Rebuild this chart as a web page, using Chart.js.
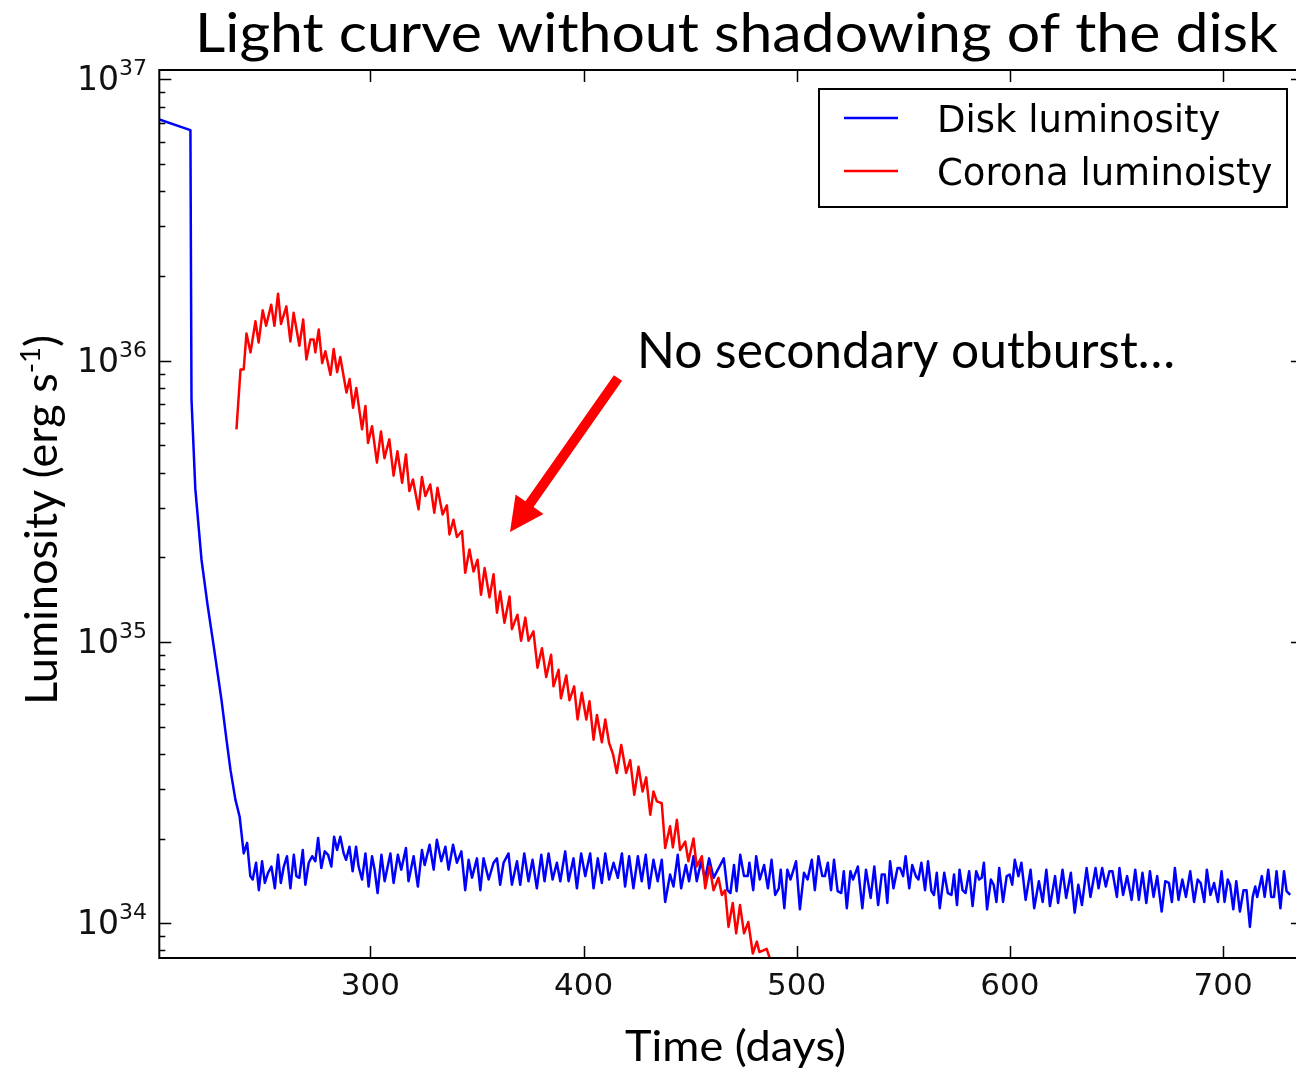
<!DOCTYPE html>
<html>
<head>
<meta charset="utf-8">
<script src="https://cdn.jsdelivr.net/npm/chart.js@4.4.1/dist/chart.umd.min.js"></script>
<style>
  html, body { margin: 0; padding: 0; background: #fff; overflow: hidden; }
  #wrap { width: 1296px; height: 1073px; overflow: hidden; position: relative; }
  canvas { display: block; }
</style>
</head>
<body>
<div id="wrap"><canvas id="lc" width="1320" height="1073"></canvas></div>
<script>
// luminosities are in units of 1e34 erg/s, time in days
const diskDays = [
  201, 215.6, 216.1, 217.9, 220.8, 223.6, 226.4, 230.2, 232.5, 234.4,
  236.7, 238.7, 240.6, 242.2, 243.7, 244.8, 246.4, 247.7, 249.2, 250.5,
  252.0, 253.6, 255.2, 256.7, 258.0, 259.4, 260.9, 262.5, 264.1, 265.3,
  266.7, 268.3, 269.5, 271.1, 272.7, 274.2, 275.5, 277.0, 278.6, 280.2,
  281.7, 283.0, 284.4, 285.9, 287.5, 288.6, 290.2, 291.7, 293.3, 294.5,
  296.1, 297.7, 299.2, 300.8, 302.0, 303.4, 305.2, 306.7, 309.4, 310.9,
  312.9, 314.5, 316.7, 317.9, 320.3, 322.3, 324.2, 325.5, 327.8, 329.7,
  331.2, 333.3, 335.2, 336.7, 338.8, 340.6, 342.7, 344.5, 346.1, 347.7,
  350.0, 351.6, 353.1, 355.5, 357.8, 359.4, 360.9, 362.5, 364.8, 366.4,
  368.8, 370.3, 372.2, 374.2, 376.1, 378.1, 380.2, 381.7, 383.6, 385.5,
  387.5, 389.1, 391.4, 393.0, 395.3, 396.9, 398.9, 400.8, 403.1, 404.7,
  406.7, 408.6, 410.2, 412.0, 414.1, 416.1, 418.0, 419.5, 421.4, 423.4,
  425.5, 427.3, 429.2, 430.8, 432.8, 434.8, 436.7, 438.3, 440.6, 442.2,
  444.2, 445.8, 448.0, 449.5, 451.6, 453.1, 455.2, 457.0, 458.9, 461.0,
  465.8, 467.5, 468.9, 470.6, 471.8, 473.5, 475.3, 477.0, 477.8, 479.6,
  481.0, 482.7, 484.7, 486.5, 488.2, 489.9, 491.6, 492.5, 494.2, 495.6,
  497.1, 499.7, 501.5, 503.4, 505.1, 507.1, 508.5, 510.2, 512.0, 513.2,
  514.6, 516.1, 517.5, 519.2, 520.9, 522.1, 523.5, 525.2, 526.4, 528.7,
  530.8, 532.5, 534.7, 536.4, 538.2, 539.9, 541.3, 542.5, 543.8, 545.4,
  547.3, 548.5, 549.9, 551.1, 552.8, 554.2, 555.9, 557.1, 558.5, 560.2,
  561.6, 563.2, 564.4, 565.7, 567.1, 569.2, 570.9, 572.6, 573.8, 575.2,
  576.4, 577.8, 579.2, 580.9, 582.5, 584.2, 585.6, 586.8, 587.8, 589.3,
  591.1, 592.4, 593.7, 595.0, 596.8, 598.5, 599.9, 601.1, 602.3, 604.0,
  605.4, 607.4, 609.7, 611.4, 613.6, 615.4, 617.1, 618.8, 621.2, 622.6,
  624.7, 626.4, 628.6, 630.4, 632.1, 633.8, 636.0, 637.8, 640.2, 641.6,
  643.3, 645.0, 646.7, 648.1, 650.2, 651.4, 653.1, 655.0, 657.1, 658.8,
  660.5, 662.2, 664.0, 665.7, 667.4, 669.1, 671.2, 672.9, 674.6, 676.0,
  677.4, 679.1, 680.9, 682.6, 684.6, 686.4, 688.1, 689.5, 691.2, 692.4,
  694.1, 695.8, 697.6, 699.3, 700.7, 702.2, 703.3, 704.8, 706.2, 707.9,
  709.6, 711.0, 712.6, 713.9, 715.1, 716.0, 718.2, 719.5, 721.2, 722.6,
  723.9, 725.1, 726.9, 728.6, 729.8, 731.5
];
const diskLum = [
  720, 660, 73, 35, 19.6, 13.6, 9.8, 6.2, 4.5, 3.5,
  2.75, 2.39, 1.77, 1.93, 1.47, 1.43, 1.64, 1.31, 1.66, 1.39,
  1.51, 1.59, 1.33, 1.75, 1.39, 1.59, 1.73, 1.33, 1.75, 1.47,
  1.45, 1.82, 1.37, 1.64, 1.73, 1.66, 2.01, 1.57, 1.80, 1.75,
  1.59, 2.03, 1.82, 2.03, 1.77, 1.68, 1.87, 1.53, 1.87, 1.59,
  1.43, 1.77, 1.35, 1.73, 1.55, 1.28, 1.75, 1.41, 1.77, 1.39,
  1.75, 1.55, 1.85, 1.41, 1.73, 1.35, 1.82, 1.61, 1.90, 1.55,
  1.98, 1.66, 1.87, 1.55, 1.90, 1.64, 1.80, 1.31, 1.68, 1.45,
  1.70, 1.31, 1.70, 1.43, 1.64, 1.70, 1.37, 1.64, 1.77, 1.37,
  1.66, 1.37, 1.77, 1.41, 1.68, 1.33, 1.75, 1.41, 1.77, 1.43,
  1.64, 1.41, 1.80, 1.41, 1.70, 1.33, 1.77, 1.47, 1.77, 1.33,
  1.70, 1.39, 1.77, 1.43, 1.64, 1.45, 1.77, 1.35, 1.73, 1.33,
  1.73, 1.41, 1.75, 1.33, 1.68, 1.41, 1.68, 1.19, 1.49, 1.35,
  1.75, 1.33, 1.61, 1.41, 1.73, 1.41, 1.66, 1.43, 1.70, 1.45,
  1.70, 1.31, 1.28, 1.61, 1.30, 1.75, 1.47, 1.47, 1.64, 1.31,
  1.73, 1.43, 1.61, 1.33, 1.68, 1.26, 1.33, 1.55, 1.13, 1.55,
  1.43, 1.66, 1.12, 1.51, 1.43, 1.68, 1.31, 1.73, 1.47, 1.47,
  1.64, 1.31, 1.68, 1.30, 1.28, 1.53, 1.13, 1.53, 1.43, 1.59,
  1.13, 1.55, 1.23, 1.59, 1.16, 1.49, 1.49, 1.18, 1.66, 1.33,
  1.57, 1.57, 1.47, 1.73, 1.33, 1.61, 1.47, 1.43, 1.64, 1.31,
  1.66, 1.30, 1.26, 1.51, 1.13, 1.51, 1.28, 1.26, 1.49, 1.16,
  1.55, 1.31, 1.28, 1.53, 1.15, 1.53, 1.43, 1.45, 1.64, 1.12,
  1.43, 1.37, 1.19, 1.57, 1.19, 1.47, 1.49, 1.37, 1.68, 1.47,
  1.64, 1.21, 1.55, 1.13, 1.41, 1.19, 1.55, 1.15, 1.47, 1.18,
  1.55, 1.23, 1.51, 1.09, 1.37, 1.16, 1.57, 1.24, 1.57, 1.33,
  1.57, 1.35, 1.53, 1.53, 1.24, 1.57, 1.26, 1.47, 1.21, 1.55,
  1.21, 1.51, 1.18, 1.53, 1.24, 1.47, 1.10, 1.41, 1.39, 1.19,
  1.57, 1.21, 1.43, 1.24, 1.53, 1.19, 1.43, 1.39, 1.19, 1.55,
  1.26, 1.39, 1.19, 1.53, 1.19, 1.43, 1.37, 1.12, 1.41, 1.10,
  1.31, 1.31, 0.97, 1.24, 1.35, 1.24, 1.47, 1.24, 1.55, 1.24,
  1.24, 1.53, 1.13, 1.53, 1.30, 1.26
];
const coronaDays = [
  237.2, 239.1, 240.6, 241.9, 243.8, 246.1, 247.6, 249.5, 251.1, 253.5,
  255.0, 256.7, 258.1, 260.6, 262.5, 264.0, 266.7, 268.5, 270.0, 271.9,
  273.4, 274.2, 275.8, 277.4, 278.9, 281.3, 282.8, 284.4, 285.9, 288.8,
  290.3, 291.9, 293.4, 296.1, 297.7, 298.9, 300.8, 303.1, 305.0, 306.6,
  308.9, 310.9, 312.7, 314.9, 316.7, 318.3, 320.0, 322.6, 324.2, 325.8,
  328.1, 330.0, 331.5, 333.9, 335.9, 337.1, 339.0, 340.6, 343.0, 344.5,
  346.5, 348.4, 350.3, 351.9, 353.6, 355.9, 357.8, 359.4, 360.9, 362.9,
  365.3, 366.4, 369.0, 370.7, 372.7, 374.2, 376.5, 378.4, 380.5, 382.5,
  384.8, 385.9, 388.3, 389.4, 391.9, 393.4, 395.6, 397.2, 399.2, 401.3,
  402.8, 404.7, 406.3, 408.6, 410.2, 412.0, 413.8, 415.6, 417.7, 420.0,
  421.9, 423.8, 425.8, 427.7, 429.4, 431.3, 432.8, 434.4, 436.7, 438.3,
  440.6, 441.9, 443.8, 445.3, 447.7, 449.2, 451.6, 453.1, 455.5, 457.1,
  459.1, 461.0, 463.3, 464.9, 466.4, 468.0, 470.0, 471.6, 473.4, 475.3,
  477.3, 479.4, 481.3, 482.5, 484.4, 485.9, 487.9, 489.8
];
const coronaLum = [
  57, 93, 93, 125, 107, 138, 116, 151, 133, 158,
  133, 173, 135, 156, 117, 148, 113, 140, 101, 119,
  119, 107, 129, 98, 108, 89, 110, 91, 103, 77,
  86, 68, 80, 57, 69, 51, 58.5, 43.4, 56, 45,
  52.5, 39, 47.6, 36.8, 46.4, 34.4, 37.8, 29.6, 38.6, 33.0,
  36.3, 28.8, 35.3, 28.4, 30.6, 24.1, 27.2, 23.6, 24.8, 17.6,
  21.3, 17.8, 19.6, 14.7, 18.3, 14.4, 17.4, 12.7, 15.1, 11.7,
  14.5, 11.1, 12.5, 10.1, 12.2, 10.1, 10.9, 8.1, 9.5, 7.5,
  9.0, 6.95, 7.96, 6.3, 7.6, 6.2, 6.95, 5.3, 6.6, 5.3,
  6.15, 4.49, 5.5, 4.4, 5.3, 4.37, 4.0, 3.42, 4.3, 3.42,
  3.8, 2.86, 3.6, 2.94, 3.3, 2.43, 2.94, 2.71, 2.67, 1.85,
  2.21, 1.86, 2.33, 1.82, 1.95, 1.66, 2.0, 1.59, 1.73, 1.33,
  1.59, 1.31, 1.45, 1.26, 1.31, 0.97, 1.18, 0.92, 1.16, 0.92,
  1.01, 0.78, 0.86, 0.79, 0.80, 0.81, 0.73, 0.68
];

const xTicks = [300, 400, 500, 600, 700];
const yPowers = [34, 35, 36, 37];   // labelled decades (10^n erg/s)
const seriesNames = ['Disk luminosity', 'Corona luminoisty'];
const seriesColors = ['#0000ff', '#ff0000'];

function toPoints(days, lum) {
  return days.map((d, i) => ({ x: d, y: lum[i] }));
}

// draw text stretched/squeezed to a given width (Calibri-like look)
function fitText(ctx, text, left, baseline, font, width) {
  ctx.font = font;
  const w = ctx.measureText(text).width;
  ctx.save();
  ctx.translate(left, baseline);
  ctx.scale(width / w, 1);
  ctx.textAlign = 'left';
  ctx.textBaseline = 'alphabetic';
  ctx.fillText(text, 0, 0);
  ctx.restore();
}

const decorations = {
  id: 'decorations',
  afterDraw(chart) {
    const { ctx, chartArea: a, scales: { x, y } } = chart;
    ctx.save();

    // frame
    ctx.strokeStyle = '#000';
    ctx.lineWidth = 2;
    ctx.strokeRect(a.left, a.top, a.right - a.left, a.bottom - a.top);

    // tick marks, pointing inwards on all four sides
    ctx.lineWidth = 1.5;
    ctx.beginPath();
    x.ticks.forEach(t => {
      const px = Math.round(x.getPixelForValue(t.value)) + 0.5;
      ctx.moveTo(px, a.bottom); ctx.lineTo(px, a.bottom - 12);
      ctx.moveTo(px, a.top); ctx.lineTo(px, a.top + 12);
    });
    y.ticks.forEach(t => {
      const py = Math.round(y.getPixelForValue(t.value)) + 0.5;
      const lg = Math.log10(t.value);
      const len = Math.abs(lg - Math.round(lg)) < 1e-6 ? 12 : 6;
      ctx.moveTo(a.left, py); ctx.lineTo(a.left + len, py);
      ctx.moveTo(a.right, py); ctx.lineTo(a.right - len, py);
    });
    ctx.stroke();

    // x tick labels
    ctx.fillStyle = '#111';
    ctx.font = '31px "DejaVu Sans"';
    ctx.textAlign = 'center';
    ctx.textBaseline = 'alphabetic';
    xTicks.forEach(v => {
      ctx.fillText(String(v), x.getPixelForValue(v), 995);
    });

    // y tick labels 10^n
    yPowers.forEach(p => {
      const py = y.getPixelForValue(Math.pow(10, p - 34));
      const sup = String(p);
      ctx.font = '22px "DejaVu Sans"';
      const ws = ctx.measureText(sup).width;
      ctx.font = '33px "DejaVu Sans"';
      const wb = ctx.measureText('10').width;
      const right = 147;
      ctx.textAlign = 'left';
      ctx.fillText('10', right - ws - wb, py + 11);
      ctx.font = '22px "DejaVu Sans"';
      ctx.fillText(sup, right - ws, py - 4);
    });

    // legend
    ctx.strokeStyle = '#000';
    ctx.lineWidth = 2;
    ctx.strokeRect(819, 89, 468, 118);
    const rows = [118, 171];
    ctx.font = '37px "DejaVu Sans"';
    ctx.textAlign = 'left';
    seriesNames.forEach((name, i) => {
      ctx.strokeStyle = seriesColors[i];
      ctx.lineWidth = 2.5;
      ctx.beginPath();
      ctx.moveTo(844, rows[i]); ctx.lineTo(898, rows[i]);
      ctx.stroke();
      ctx.fillStyle = '#000';
      ctx.fillText(name, 937, rows[i] + 14);
    });

    // titles (PowerPoint style overlay text)
    ctx.fillStyle = '#000';
    fitText(ctx, 'Light curve without shadowing of the disk', 195, 52, '55px Lato', 1083);
    fitText(ctx, 'No secondary outburst\u2026', 637, 368, '50px Lato', 538);
    fitText(ctx, 'Time (days)', 625, 1061, '42px Lato', 221);

    // rotated y label with superscript
    ctx.save();
    ctx.translate(57, 705);
    ctx.rotate(-Math.PI / 2);
    const p1 = 'Luminosity (erg s', p2 = '-1', p3 = ')';
    ctx.font = '44px Lato';
    const w1 = ctx.measureText(p1).width, w3 = ctx.measureText(p3).width;
    ctx.font = '27px Lato';
    const w2 = ctx.measureText(p2).width;
    const k = 370 / (w1 + w2 + w3);
    ctx.scale(k, 1);
    ctx.font = '44px Lato';
    ctx.fillText(p1, 0, 0);
    ctx.font = '27px Lato';
    ctx.fillText(p2, w1, -17);
    ctx.font = '44px Lato';
    ctx.fillText(p3, w1 + w2, 0);
    ctx.restore();

    // red arrow
    const tail = { x: 618, y: 378 }, tip = { x: 510, y: 532 };
    const dx = tip.x - tail.x, dy = tip.y - tail.y, len = Math.hypot(dx, dy);
    const ux = dx / len, uy = dy / len, nx = -uy, ny = ux;
    const headLen = 34, headHalf = 17, shaftHalf = 5;
    const bx = tip.x - ux * headLen, by = tip.y - uy * headLen;
    ctx.fillStyle = '#ff0000';
    ctx.beginPath();
    ctx.moveTo(tail.x + nx * shaftHalf, tail.y + ny * shaftHalf);
    ctx.lineTo(bx + nx * shaftHalf, by + ny * shaftHalf);
    ctx.lineTo(bx + nx * headHalf, by + ny * headHalf);
    ctx.lineTo(tip.x, tip.y);
    ctx.lineTo(bx - nx * headHalf, by - ny * headHalf);
    ctx.lineTo(bx - nx * shaftHalf, by - ny * shaftHalf);
    ctx.lineTo(tail.x - nx * shaftHalf, tail.y - ny * shaftHalf);
    ctx.closePath();
    ctx.fill();

    ctx.restore();
  }
};

new Chart(document.getElementById('lc'), {
  type: 'line',
  data: {
    datasets: [{
      label: seriesNames[0],
      data: toPoints(diskDays, diskLum),
      borderColor: seriesColors[0],
      borderWidth: 2.5,
      pointRadius: 0,
      tension: 0,
      borderJoinStyle: 'round',
      order: 2,
      clip: 0
    }, {
      label: seriesNames[1],
      data: toPoints(coronaDays, coronaLum),
      borderColor: seriesColors[1],
      borderWidth: 2.5,
      pointRadius: 0,
      tension: 0,
      borderJoinStyle: 'round',
      order: 1,
      clip: 0
    }]
  },
  options: {
    responsive: false,
    animation: false,
    events: [],
    layout: { padding: { top: 70, right: 17, bottom: 0, left: 0 } },
    plugins: {
      legend: { display: false },
      tooltip: { enabled: false }
    },
    scales: {
      x: {
        type: 'linear',
        min: 201,
        max: 737.5,
        grid: { display: false, drawTicks: false },
        border: { display: false },
        ticks: { display: false },
        afterBuildTicks: scale => { scale.ticks = xTicks.map(v => ({ value: v })); },
        afterFit: scale => { scale.height = 115; }
      },
      y: {
        type: 'logarithmic',
        min: 0.752,
        max: 1080,
        grid: { display: false, drawTicks: false },
        border: { display: false },
        ticks: { display: false },
        afterBuildTicks: scale => {
          const t = [];
          for (let e = -1; e <= 3; e++) {
            for (let m = 1; m <= 9; m++) {
              const v = m * Math.pow(10, e);
              if (v >= scale.min && v <= scale.max) t.push({ value: v });
            }
          }
          scale.ticks = t;
        },
        afterFit: scale => { scale.width = 159.3; }
      }
    }
  },
  plugins: [decorations]
});
</script>
</body>
</html>
